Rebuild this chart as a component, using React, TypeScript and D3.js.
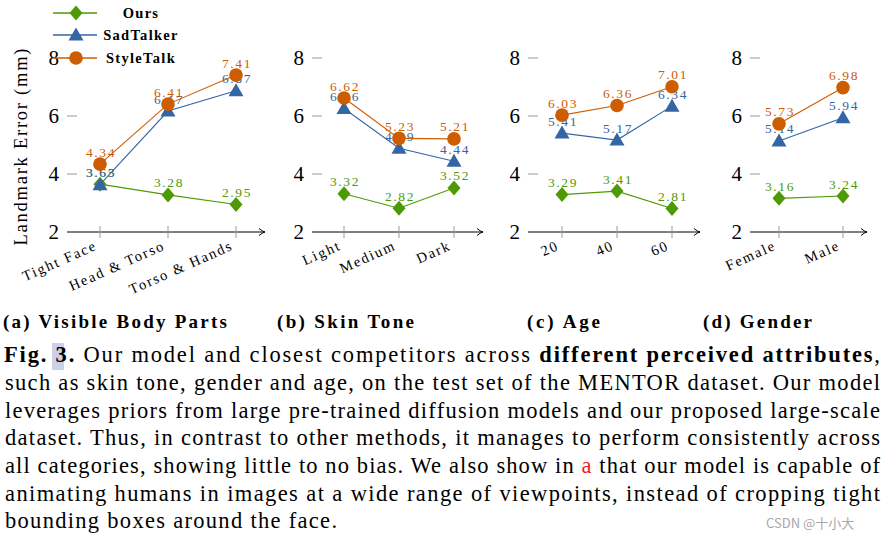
import React from "react";
import * as d3 from "d3";

// ---------- data ----------
const bodyParts = ["Tight Face", "Head & Torso", "Torso & Hands"];
const skinTones = ["Light", "Medium", "Dark"];
const ages = ["20", "40", "60"];
const genders = ["Female", "Male"];

const oursBody = [3.65, 3.28, 2.95];
const sadBody = [3.63, 6.17, 6.87];
const styleBody = [4.34, 6.41, 7.41];

const oursSkin = [3.32, 2.82, 3.52];
const sadSkin = [6.26, 4.89, 4.44];
const styleSkin = [6.62, 5.23, 5.21];

const oursAge = [3.29, 3.41, 2.81];
const sadAge = [5.41, 5.17, 6.34];
const styleAge = [6.03, 6.36, 7.01];

const oursGender = [3.16, 3.24];
const sadGender = [5.14, 5.94];
const styleGender = [5.73, 6.98];

const yTicks = [2, 4, 6, 8];
const seriesNames = ["Ours", "SadTalker", "StyleTalk"];
const subCaptions = ["Visible Body Parts", "Skin Tone", "Age", "Gender"];

// ---------- styles ----------
const GREEN = "#4e9a06";
const BLUE = "#3465a4";
const ORANGE = "#ce5c00";
const colors = [GREEN, BLUE, ORANGE];
const SERIF = "Liberation Serif, Times New Roman, serif";

const panels = [
  { cats: bodyParts, series: [oursBody, sadBody, styleBody], x0: 67, x1: 265, r: [100, 236] },
  { cats: skinTones, series: [oursSkin, sadSkin, styleSkin], x0: 312, x1: 483, r: [344, 454] },
  { cats: ages, series: [oursAge, sadAge, styleAge], x0: 528, x1: 700, r: [562, 672] },
  { cats: genders, series: [oursGender, sadGender, styleGender], x0: 750, x1: 867, r: [779, 843] },
];

const subCapLayout = [
  { x: 3, w: 224, tag: "(a)" },
  { x: 277, w: 137, tag: "(b)" },
  { x: 527, w: 73, tag: "(c)" },
  { x: 703, w: 109, tag: "(d)" },
];

const y = d3.scaleLinear().domain([2, 8]).range([232, 58]);
const fmt = d3.format(".2f");

function Marker({ kind, x, yy, color }: { kind: number; x: number; yy: number; color: string }) {
  if (kind === 0) {
    const p = d3.path();
    p.moveTo(x, yy - 7.5);
    p.lineTo(x + 6.5, yy);
    p.lineTo(x, yy + 7.5);
    p.lineTo(x - 6.5, yy);
    p.closePath();
    return <path d={p.toString()} fill={color} />;
  }
  if (kind === 1) {
    const p = d3.path();
    p.moveTo(x, yy - 7.5);
    p.lineTo(x + 7.5, yy + 5.5);
    p.lineTo(x - 7.5, yy + 5.5);
    p.closePath();
    return <path d={p.toString()} fill={color} />;
  }
  return <circle cx={x} cy={yy} r={6.8} fill={color} />;
}

function Panel({ cfg }: { cfg: (typeof panels)[number] }) {
  const x = d3.scalePoint<string>().domain(cfg.cats).range(cfg.r as [number, number]);
  const axisY = y(2);
  const line = d3
    .line<number>()
    .x((_, i) => x(cfg.cats[i]) as number)
    .y((v) => y(v));
  return (
    <g>
      {yTicks.map((t) => (
        <g key={t}>
          {t !== 2 && (
            <line x1={cfg.x0} x2={cfg.x0 + 10} y1={y(t)} y2={y(t)} stroke="#9a9a9a" strokeWidth={1} />
          )}
          <text x={cfg.x0 - 8} y={y(t) + 7} textAnchor="end" fontSize={21} fontFamily={SERIF} fill="#000">
            {t}
          </text>
        </g>
      ))}
      <line x1={cfg.x0} x2={cfg.x1} y1={axisY} y2={axisY} stroke="#000" strokeWidth={1} />
      <path
        d={`M${cfg.x1 - 6},${axisY - 3.5} Q${cfg.x1 - 2.5},${axisY - 0.5} ${cfg.x1},${axisY} Q${cfg.x1 - 2.5},${axisY + 0.5} ${cfg.x1 - 6},${axisY + 3.5}`}
        fill="none"
        stroke="#000"
        strokeWidth={1}
      />
      {cfg.cats.map((c) => (
        <g key={c}>
          <line x1={x(c)} x2={x(c)} y1={axisY - 6} y2={axisY + 6} stroke="#9a9a9a" strokeWidth={1} />
          <text
            transform={`translate(${(x(c) as number) - 2},${axisY + 17}) rotate(-24)`}
            textAnchor="end"
            fontSize={14.5}
            letterSpacing={1.8}
            fontFamily={SERIF}
            fill="#000"
          >
            {c}
          </text>
        </g>
      ))}
      {cfg.series.map((vals, si) => (
        <g key={si}>
          <path d={line(vals) || ""} fill="none" stroke={colors[si]} strokeWidth={1.1} />
          {vals.map((v, i) => (
            <Marker key={i} kind={si} x={x(cfg.cats[i]) as number} yy={y(v)} color={colors[si]} />
          ))}
          {vals.map((v, i) => (
            <text
              key={"l" + i}
              x={(x(cfg.cats[i]) as number) + 1}
              y={y(v) - 7.5}
              textAnchor="middle"
              fontSize={13.5}
              letterSpacing={1.6}
              fontFamily={SERIF}
              fill={colors[si]}
            >
              {fmt(v)}
            </text>
          ))}
        </g>
      ))}
    </g>
  );
}

const captionLines = [
  "such as skin tone, gender and age, on the test set of the MENTOR dataset. Our model",
  "leverages priors from large pre-trained diffusion models and our proposed large-scale",
  "dataset. Thus, in contrast to other methods, it manages to perform consistently across",
];

export default function App() {
  const legendRows = [13, 35, 58];
  const lineH = 27.8;
  const base = 362;
  return (
    <svg width={885} height={540} style={{ position: "absolute", left: 0, top: 0, background: "#fff" }}>
      <rect width={885} height={540} fill="#fff" />
      <text
        transform="translate(27,147) rotate(-90)"
        textAnchor="middle"
        fontSize={18.5}
        fontFamily={SERIF}
        textLength={197}
        lengthAdjust="spacing"
        fill="#000"
      >
        Landmark Error (mm)
      </text>
      {panels.map((p, i) => (
        <Panel key={i} cfg={p} />
      ))}
      {seriesNames.map((n, i) => (
        <g key={n}>
          <line x1={53} x2={97} y1={legendRows[i]} y2={legendRows[i]} stroke={colors[i]} strokeWidth={1.3} />
          <Marker kind={i} x={76} yy={legendRows[i]} color={colors[i]} />
          <text
            x={141}
            y={legendRows[i] + 5}
            textAnchor="middle"
            fontSize={14.5}
            fontWeight="bold"
            letterSpacing={1.3}
            fontFamily={SERIF}
            fill="#000"
          >
            {n}
          </text>
        </g>
      ))}
      {subCapLayout.map((s, i) => (
        <text
          key={i}
          x={s.x}
          y={328}
          fontSize={19}
          fontWeight="bold"
          fontFamily={SERIF}
          textLength={s.w}
          lengthAdjust="spacing"
          fill="#000"
        >
          {s.tag} {subCaptions[i]}
        </text>
      ))}
      <rect x={52} y={343} width={12} height={27} fill="#cdd0e8" />
      <text x={4} y={base} fontSize={22.5} fontFamily={SERIF} textLength={876} lengthAdjust="spacing" fill="#000">
        <tspan fontWeight="bold">Fig. 3.</tspan>
        <tspan> Our model and closest competitors across </tspan>
        <tspan fontWeight="bold">different perceived attributes</tspan>
        <tspan>,</tspan>
      </text>
      {captionLines.map((l, i) => (
        <text
          key={i}
          x={5}
          y={base + lineH * (i + 1)}
          fontSize={22.5}
          fontFamily={SERIF}
          textLength={875}
          lengthAdjust="spacing"
          fill="#000"
        >
          {l}
        </text>
      ))}
      <text x={5} y={base + lineH * 4} fontSize={22.5} fontFamily={SERIF} textLength={875} lengthAdjust="spacing" fill="#000">
        <tspan>all categories, showing little to no bias. We also show in </tspan>
        <tspan fill="#e8221b">a</tspan>
        <tspan> that our model is capable of</tspan>
      </text>
      <text x={5} y={base + lineH * 5} fontSize={22.5} fontFamily={SERIF} textLength={875} lengthAdjust="spacing" fill="#000">
        animating humans in images at a wide range of viewpoints, instead of cropping tight
      </text>
      <text x={5} y={base + lineH * 6 - 1} fontSize={22.5} fontFamily={SERIF} textLength={332} lengthAdjust="spacing" fill="#000">
        bounding boxes around the face.
      </text>
      <text x={766} y={528} fontSize={13} fontFamily="'Noto Sans CJK SC', 'Noto Sans', sans-serif" fill="#a8a8a8">
        CSDN @十小大
      </text>
    </svg>
  );
}
